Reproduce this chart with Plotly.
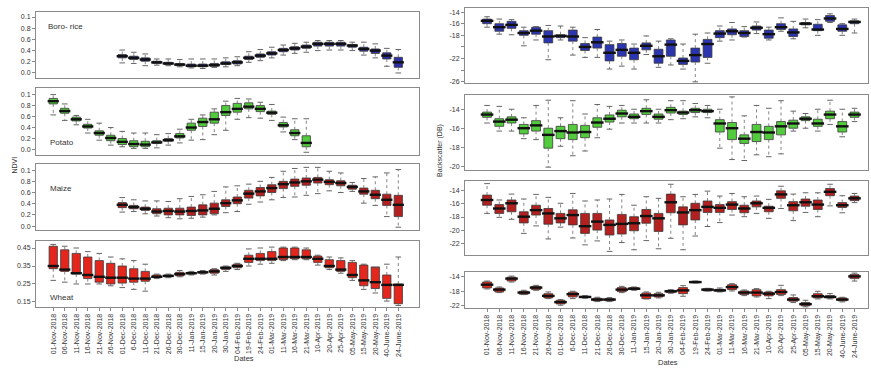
import plotly.graph_objects as go

W, H = 871, 376

dates = ["01-Nov-2018", "06-Nov-2018", "11-Nov-2018", "16-Nov-2018", "21-Nov-2018",
         "26-Nov-2018", "01-Dec-2018", "6-Dec-2018", "11-Dec-2018", "21-Dec-2018",
         "26-Dec-2018", "30-Dec-2018", "11-Jan-2019", "15-Jan-2019", "20-Jan-2019",
         "30-Jan-2019", "04-Feb-2019", "19-Feb-2019", "24-Feb-2019", "01-Mar-2019",
         "11-Mar-2019", "16-Mar-2019", "21-Mar-2019", "10-Apr-2019", "20-Apr-2019",
         "25-Apr-2019", "05-May-2019", "15-May-2019", "20-May-2019", "40-June-2019",
         "24-June-2019"]

# ---------------- NDVI ----------------
boro_start = 6
boro_med = [0.30,0.27,0.24,0.19,0.17,0.15,0.13,0.13,0.14,0.17,0.19,0.27,0.31,0.35,0.41,0.44,0.47,0.52,0.52,0.52,0.49,0.43,0.40,0.31,0.19]
boro_q1 = [0.27,0.24,0.21,0.17,0.15,0.13,0.11,0.11,0.12,0.15,0.16,0.24,0.28,0.32,0.38,0.41,0.44,0.48,0.48,0.48,0.46,0.39,0.35,0.25,0.10]
boro_q3 = [0.33,0.30,0.27,0.21,0.19,0.17,0.16,0.16,0.17,0.20,0.22,0.30,0.34,0.38,0.44,0.47,0.50,0.55,0.55,0.55,0.51,0.46,0.43,0.36,0.28]
boro_lo = [0.18,0.17,0.13,0.14,0.13,0.11,0.09,0.08,0.10,0.11,0.13,0.19,0.22,0.27,0.32,0.35,0.37,0.40,0.41,0.41,0.40,0.32,0.27,0.12,0.00]
boro_hi = [0.41,0.37,0.34,0.25,0.25,0.24,0.25,0.25,0.25,0.27,0.29,0.38,0.42,0.46,0.50,0.53,0.55,0.58,0.58,0.58,0.55,0.55,0.52,0.44,0.42]

potato_start = 0
potato_med = [0.88,0.70,0.55,0.42,0.30,0.21,0.14,0.10,0.09,0.13,0.17,0.24,0.40,0.50,0.55,0.68,0.74,0.78,0.74,0.67,0.44,0.30,0.12]
potato_q1 = [0.83,0.66,0.52,0.39,0.26,0.16,0.09,0.05,0.05,0.11,0.15,0.21,0.35,0.42,0.48,0.62,0.68,0.74,0.69,0.64,0.41,0.25,0.05]
potato_q3 = [0.93,0.75,0.59,0.46,0.34,0.26,0.20,0.16,0.15,0.16,0.20,0.29,0.48,0.57,0.68,0.80,0.84,0.85,0.80,0.70,0.49,0.36,0.25]
potato_lo = [0.63,0.53,0.45,0.30,0.17,0.08,0.05,0.02,0.02,0.03,0.08,0.12,0.17,0.18,0.27,0.35,0.55,0.58,0.57,0.53,0.32,0.18,-0.05]
potato_hi = [1.00,0.83,0.62,0.55,0.48,0.40,0.33,0.30,0.30,0.27,0.29,0.37,0.55,0.63,0.74,0.88,0.93,0.92,0.86,0.82,0.59,0.56,0.56]

maize_start = 6
maize_med = [0.38,0.34,0.31,0.26,0.27,0.26,0.27,0.28,0.31,0.41,0.46,0.58,0.62,0.68,0.75,0.78,0.80,0.83,0.79,0.77,0.70,0.62,0.56,0.47,0.38]
maize_q1 = [0.33,0.31,0.28,0.22,0.20,0.20,0.19,0.20,0.22,0.35,0.40,0.50,0.54,0.60,0.67,0.71,0.73,0.77,0.74,0.72,0.66,0.57,0.49,0.37,0.17]
maize_q3 = [0.42,0.37,0.34,0.31,0.32,0.32,0.34,0.38,0.41,0.47,0.52,0.64,0.69,0.74,0.80,0.84,0.86,0.87,0.83,0.81,0.73,0.68,0.64,0.57,0.55]
maize_lo = [0.25,0.26,0.22,0.18,0.15,0.13,0.14,0.16,0.20,0.24,0.26,0.39,0.43,0.47,0.51,0.52,0.55,0.58,0.63,0.60,0.62,0.41,0.37,0.17,-0.02]
maize_hi = [0.51,0.47,0.45,0.45,0.44,0.49,0.53,0.56,0.62,0.70,0.72,0.75,0.80,0.87,0.98,1.03,1.05,1.05,0.98,0.95,0.78,0.85,0.88,0.95,1.01]

wheat_start = 0
wheat_med = [0.35,0.33,0.31,0.30,0.29,0.285,0.285,0.28,0.28,0.29,0.295,0.305,0.31,0.315,0.32,0.34,0.35,0.39,0.39,0.39,0.40,0.40,0.40,0.39,0.35,0.33,0.30,0.27,0.26,0.245,0.245]
wheat_q1 = [0.335,0.32,0.305,0.28,0.26,0.25,0.255,0.26,0.265,0.285,0.29,0.295,0.305,0.31,0.31,0.33,0.34,0.37,0.38,0.38,0.385,0.39,0.39,0.37,0.34,0.32,0.285,0.24,0.225,0.17,0.14]
wheat_q3 = [0.46,0.44,0.42,0.40,0.38,0.365,0.35,0.335,0.32,0.30,0.30,0.315,0.315,0.32,0.33,0.345,0.36,0.41,0.42,0.43,0.45,0.45,0.44,0.405,0.385,0.38,0.37,0.355,0.345,0.30,0.25]
wheat_lo = [0.27,0.26,0.25,0.25,0.25,0.24,0.23,0.22,0.21,0.28,0.285,0.29,0.30,0.305,0.30,0.32,0.33,0.35,0.36,0.365,0.38,0.385,0.385,0.355,0.33,0.31,0.27,0.22,0.20,0.155,0.13]
wheat_hi = [0.47,0.46,0.45,0.43,0.42,0.40,0.39,0.38,0.36,0.305,0.305,0.325,0.32,0.325,0.335,0.35,0.365,0.445,0.45,0.455,0.455,0.455,0.45,0.41,0.40,0.395,0.38,0.36,0.34,0.36,0.40]

# ---------------- Backscatter (dB) ----------------
bs1_med = [-15.5,-16.6,-16.2,-17.6,-17.2,-18.2,-18.1,-18.2,-20.0,-19.2,-21.0,-20.5,-21.0,-19.8,-21.6,-19.6,-22.4,-21.4,-19.5,-17.7,-17.3,-17.6,-16.7,-17.8,-16.6,-17.5,-16.0,-17.0,-15.1,-16.9,-15.7]
bs1_q3 = [-15.2,-16.0,-15.6,-17.2,-16.6,-17.2,-17.9,-17.1,-19.4,-18.3,-19.6,-19.4,-20.2,-19.3,-20.4,-18.8,-21.9,-20.2,-18.7,-17.2,-16.9,-17.2,-16.4,-17.1,-16.0,-16.9,-15.8,-16.1,-14.6,-16.2,-15.5]
bs1_q1 = [-16.0,-17.3,-16.8,-18.0,-17.8,-19.3,-18.4,-19.0,-20.6,-20.2,-22.4,-21.6,-22.2,-20.5,-22.8,-21.6,-23.0,-22.6,-21.8,-18.4,-17.9,-18.2,-17.1,-18.5,-17.0,-18.2,-16.2,-17.2,-15.6,-17.3,-16.0]
bs1_hi = [-14.8,-15.2,-15.3,-16.6,-16.5,-16.3,-16.4,-16.6,-18.4,-17.0,-19.0,-18.8,-19.5,-18.1,-19.0,-18.6,-19.5,-17.8,-17.6,-16.4,-15.8,-16.5,-15.7,-16.6,-15.0,-15.6,-15.2,-15.3,-14.3,-16.0,-15.2]
bs1_lo = [-16.6,-17.8,-17.9,-19.8,-18.8,-22.2,-18.8,-21.4,-21.8,-21.8,-23.8,-23.3,-23.8,-21.3,-23.5,-23.1,-23.8,-26.0,-22.8,-19.0,-18.8,-18.3,-17.7,-18.8,-17.3,-18.6,-16.7,-18.0,-15.8,-18.0,-17.6]

bs2_med = [-14.56,-15.3,-15.1,-16.0,-15.7,-16.7,-16.3,-16.45,-16.4,-15.4,-15.0,-14.45,-14.8,-14.2,-14.8,-14.1,-14.35,-14.1,-14.2,-15.5,-16.0,-17.1,-16.4,-16.45,-15.8,-15.5,-15.0,-15.5,-14.56,-15.8,-14.56]
bs2_q3 = [-14.3,-15.0,-14.8,-15.6,-15.2,-16.0,-15.8,-15.6,-15.7,-14.9,-14.6,-14.1,-14.5,-13.9,-14.5,-13.8,-14.2,-13.9,-14.0,-15.1,-15.4,-16.7,-15.6,-15.8,-15.3,-15.15,-14.8,-15.05,-14.2,-15.3,-14.3]
bs2_q1 = [-14.85,-15.8,-15.45,-16.6,-16.3,-18.1,-17.1,-17.2,-17.0,-15.9,-15.35,-14.8,-15.0,-14.55,-15.05,-14.4,-14.55,-14.35,-14.35,-16.4,-17.2,-17.6,-17.4,-17.2,-16.7,-16.0,-15.2,-15.8,-15.0,-16.4,-14.85]
bs2_hi = [-13.6,-13.7,-14.0,-14.9,-13.6,-13.05,-14.9,-13.1,-14.5,-13.5,-13.7,-13.6,-14.0,-13.0,-14.0,-13.1,-13.1,-13.4,-13.6,-14.0,-12.7,-14.7,-13.6,-13.9,-13.1,-14.2,-14.45,-14.0,-13.05,-14.0,-13.9]
bs2_lo = [-15.45,-16.3,-16.3,-17.1,-17.2,-20.1,-17.9,-18.9,-18.4,-17.0,-16.1,-15.45,-15.45,-15.45,-15.45,-15.1,-15.0,-14.8,-14.9,-18.1,-19.3,-19.4,-18.8,-19.0,-18.7,-16.3,-16.0,-16.3,-15.6,-16.9,-15.3]

bs3_med = [-15.4,-16.7,-15.9,-17.95,-16.95,-17.45,-18.2,-17.7,-19.4,-18.7,-19.2,-19.05,-18.95,-17.85,-18.2,-15.75,-17.3,-16.95,-16.45,-16.6,-16.1,-16.7,-15.9,-16.6,-14.55,-16.2,-15.75,-16.1,-14.15,-16.2,-15.15]
bs3_q3 = [-14.65,-16.1,-15.4,-17.2,-16.2,-16.7,-17.45,-16.9,-17.45,-17.45,-18.45,-17.6,-17.95,-16.85,-17.45,-14.5,-16.45,-15.9,-15.55,-16.1,-15.65,-16.2,-15.55,-16.35,-14.0,-15.65,-15.25,-15.4,-13.65,-15.8,-14.8]
bs3_q1 = [-16.2,-17.45,-17.2,-18.9,-17.7,-19.1,-18.9,-19.2,-20.5,-20.0,-20.75,-20.6,-20.1,-18.95,-20.2,-17.35,-19.2,-18.45,-17.3,-17.3,-16.85,-17.35,-16.45,-17.2,-15.15,-17.05,-16.35,-16.85,-14.75,-16.55,-15.5]
bs3_hi = [-12.9,-15.4,-14.5,-15.25,-14.55,-15.0,-15.9,-14.4,-15.55,-15.4,-15.25,-14.55,-16.2,-14.9,-15.15,-13.0,-14.9,-14.55,-14.05,-14.8,-14.4,-14.9,-14.8,-15.3,-13.3,-14.5,-14.3,-14.3,-13.0,-14.75,-14.4]
bs3_lo = [-17.45,-18.05,-18.35,-20.5,-19.35,-21.35,-19.55,-21.2,-22.25,-21.65,-23.25,-21.9,-23.0,-21.6,-22.85,-21.25,-23.0,-20.9,-19.45,-18.85,-17.7,-17.95,-17.45,-18.2,-16.7,-18.55,-17.3,-17.95,-16.3,-17.35,-15.8]

bs4_med = [-16.25,-17.6,-14.6,-18.4,-17.05,-19.3,-21.0,-18.85,-19.6,-20.3,-20.3,-17.6,-17.35,-19.15,-19.15,-18.05,-17.8,-15.55,-17.6,-17.8,-16.9,-18.4,-18.4,-18.7,-18.25,-20.3,-21.55,-19.4,-19.6,-20.3,-14.0]
bs4_q3 = [-15.5,-17.15,-14.2,-18.05,-16.7,-18.7,-20.5,-18.3,-19.4,-19.95,-20.05,-17.05,-17.05,-18.5,-18.7,-17.8,-17.05,-15.35,-17.35,-17.5,-16.25,-17.95,-17.6,-18.25,-17.6,-19.75,-21.1,-18.7,-19.2,-19.85,-13.45]
bs4_q1 = [-17.15,-18.25,-15.25,-18.85,-17.6,-19.85,-21.5,-19.6,-19.75,-20.65,-20.65,-18.15,-17.6,-20.05,-19.6,-18.4,-18.7,-15.7,-17.95,-18.05,-17.6,-18.95,-19.3,-19.3,-18.95,-20.75,-22.0,-19.85,-19.85,-20.65,-14.6]
bs4_hi = [-15.26,-16.88,-13.91,-17.78,-16.43,-18.23,-20.31,-18.05,-19.23,-19.68,-19.77,-16.70,-16.88,-18.23,-18.32,-17.60,-16.52,-15.26,-17.24,-17.15,-15.98,-17.69,-17.33,-18.05,-16.43,-19.05,-20.49,-18.05,-18.68,-19.68,-13.10]
bs4_lo = [-17.42,-18.41,-15.53,-18.95,-17.78,-20.04,-21.84,-20.04,-19.95,-20.85,-20.85,-18.41,-17.78,-20.13,-19.86,-18.59,-19.41,-15.80,-17.96,-18.23,-17.96,-19.23,-19.59,-20.04,-19.23,-21.12,-22.29,-20.13,-20.13,-20.94,-15.26]

ndvi_tickvals = [0.0, 0.2, 0.4, 0.6, 0.8, 1.0]
ndvi_ticktext = ["0.0", "0.2", "0.4", "0.6", "0.8", "0.1"]
wheat_tickvals = [0.15, 0.25, 0.35, 0.45]
wheat_ticktext = ["0.15", "0.25", "0.35", "0.45"]

panels = [
    dict(start=boro_start, med=boro_med, q1=boro_q1, q3=boro_q3, lo=boro_lo, hi=boro_hi,
         color="#2c2fa6", side="L", ypx=(12, 78), yr=[-0.09, 1.09],
         tv=ndvi_tickvals, tt=ndvi_ticktext, label="Boro- rice", lab_px=(46, 27)),
    dict(start=potato_start, med=potato_med, q1=potato_q1, q3=potato_q3, lo=potato_lo, hi=potato_hi,
         color="#52cc3c", side="L", ypx=(88, 155), yr=[-0.1, 1.12],
         tv=ndvi_tickvals, tt=ndvi_ticktext, label="Potato", lab_px=(48, 142)),
    dict(start=maize_start, med=maize_med, q1=maize_q1, q3=maize_q3, lo=maize_lo, hi=maize_hi,
         color="#b3201f", side="L", ypx=(164, 230), yr=[-0.07, 1.11],
         tv=ndvi_tickvals, tt=ndvi_ticktext, label="Maize", lab_px=(48, 188)),
    dict(start=wheat_start, med=wheat_med, q1=wheat_q1, q3=wheat_q3, lo=wheat_lo, hi=wheat_hi,
         color="#e5261c", side="L", ypx=(241, 307), yr=[0.122, 0.489],
         tv=wheat_tickvals, tt=wheat_ticktext, label="Wheat", lab_px=(48, 297)),
    dict(start=0, med=bs1_med, q1=bs1_q1, q3=bs1_q3, lo=bs1_lo, hi=bs1_hi,
         color="#2c35b0", side="R", ypx=(8, 83), yr=[-26.2, -13.3],
         tv=[-14, -16, -18, -20, -22, -24, -26], tt=["-14", "-16", "-18", "", "-22", "", "-26"]),
    dict(start=0, med=bs2_med, q1=bs2_q1, q3=bs2_q3, lo=bs2_lo, hi=bs2_hi,
         color="#52cc3c", side="R", ypx=(95, 170), yr=[-20.4, -12.5],
         tv=[-14, -16, -18, -20], tt=["-14", "-16", "-18", "-20"]),
    dict(start=0, med=bs3_med, q1=bs3_q1, q3=bs3_q3, lo=bs3_lo, hi=bs3_hi,
         color="#b3201f", side="R", ypx=(181, 255), yr=[-23.8, -12.5],
         tv=[-14, -16, -18, -20, -22], tt=["-14", "-16", "-18", "-20", "-22"]),
    dict(start=0, med=bs4_med, q1=bs4_q1, q3=bs4_q3, lo=bs4_lo, hi=bs4_hi,
         color="#e5261c", side="R", ypx=(272, 308), yr=[-22.6, -12.8],
         tv=[-14, -18, -22], tt=["-14", "-18", "-22"]),
]

FONT = "Liberation Sans, Arial, sans-serif"
fig = go.Figure()
layout = dict(width=W, height=H, margin=dict(l=0, r=0, t=0, b=0, pad=0, autoexpand=False),
              paper_bgcolor="white", plot_bgcolor="white", showlegend=False,
              font=dict(family=FONT, size=7, color="#333"))
annotations = []

xdom = {"L": (36, 419), "R": (465, 868)}
xrng = {"L": [-1.5, 31.8], "R": [-1.8, 31.1]}
medsize = {"L": 8, "R": 9}
capsize = {"L": 4, "R": 4}

for i, p in enumerate(panels, start=1):
    xs = list(range(p["start"], p["start"] + len(p["med"])))
    xa = "x" if i == 1 else f"x{i}"
    ya = "y" if i == 1 else f"y{i}"
    # dashed whiskers (R style)
    wx, wy = [], []
    for x, q1, q3, lo, hi in zip(xs, p["q1"], p["q3"], p["lo"], p["hi"]):
        wx += [x, x, None, x, x, None]
        wy += [q3, hi, None, q1, lo, None]
    fig.add_trace(go.Scatter(x=wx, y=wy, mode="lines", hoverinfo="skip",
                             line=dict(color="#666", width=0.8, dash="dot"),
                             xaxis=xa, yaxis=ya))
    # whisker caps
    fig.add_trace(go.Scatter(x=xs + xs, y=p["lo"] + p["hi"], mode="markers", hoverinfo="skip",
                             marker=dict(symbol="line-ew", size=capsize[p["side"]],
                                         line=dict(color="#555", width=0.9)),
                             xaxis=xa, yaxis=ya))
    # boxes
    fig.add_trace(go.Box(
        x=xs, q1=p["q1"], median=p["med"], q3=p["q3"],
        lowerfence=p["q1"], upperfence=p["q3"],
        fillcolor=p["color"], line=dict(color="#3a3a3a", width=0.8),
        width=0.72, whiskerwidth=0, boxpoints=False, hoverinfo="skip",
        xaxis=xa, yaxis=ya))
    # thick medians
    fig.add_trace(go.Scatter(
        x=xs, y=p["med"], mode="markers", hoverinfo="skip",
        marker=dict(symbol="line-ew", size=medsize[p["side"]],
                    line=dict(color="#111", width=2.4)),
        xaxis=xa, yaxis=ya))
    x0, x1 = xdom[p["side"]]
    y0, y1 = p["ypx"]
    bottom = i in (4, 8)
    kx = "xaxis" if i == 1 else f"xaxis{i}"
    ky = "yaxis" if i == 1 else f"yaxis{i}"
    layout[kx] = dict(domain=[x0 / W, x1 / W], range=xrng[p["side"]], anchor=ya,
                      automargin=False,
                      showgrid=False, zeroline=False, showline=True, mirror=True,
                      linecolor="#8a8a8a", linewidth=1,
                      tickmode="array", tickvals=list(range(len(dates))),
                      ticktext=dates if bottom else [""] * len(dates),
                      ticks="outside" if bottom else "", ticklen=3, tickcolor="#888",
                      tickangle=-90, tickfont=dict(size=7, color="#333"))
    layout[ky] = dict(domain=[1 - y1 / H, 1 - y0 / H], range=p["yr"], anchor=xa,
                      automargin=False,
                      showgrid=False, zeroline=False, showline=True, mirror=True,
                      linecolor="#8a8a8a", linewidth=1,
                      tickmode="array", tickvals=p["tv"], ticktext=p["tt"],
                      ticks="outside", ticklen=3, tickcolor="#888",
                      tickfont=dict(size=7, color="#333"))
    if "label" in p:
        annotations.append(dict(text=p["label"], xref="paper", yref="paper",
                                x=p["lab_px"][0] / W, y=1 - p["lab_px"][1] / H,
                                xanchor="left", yanchor="middle", showarrow=False,
                                font=dict(size=8, color="#333")))

annotations += [
    dict(text="NDVI", xref="paper", yref="paper", x=8 / W, y=1 - 165 / H, textangle=-90,
         showarrow=False, font=dict(size=7, color="#333")),
    dict(text="Backscatter (DB)", xref="paper", yref="paper", x=440 / W, y=1 - 150 / H,
         textangle=-90, showarrow=False, font=dict(size=7, color="#333")),
    dict(text="Dates", xref="paper", yref="paper", x=232 / W, y=1 - 365 / H,
         showarrow=False, font=dict(size=7.5, color="#333")),
    dict(text="Dates", xref="paper", yref="paper", x=680 / W, y=1 - 369 / H,
         showarrow=False, font=dict(size=7.5, color="#333")),
]
layout["annotations"] = annotations
fig.update_layout(**layout)
fig.write_html("out.html", config={"displayModeBar": False},
               post_script="document.body.style.margin='0';document.body.style.padding='0';")
